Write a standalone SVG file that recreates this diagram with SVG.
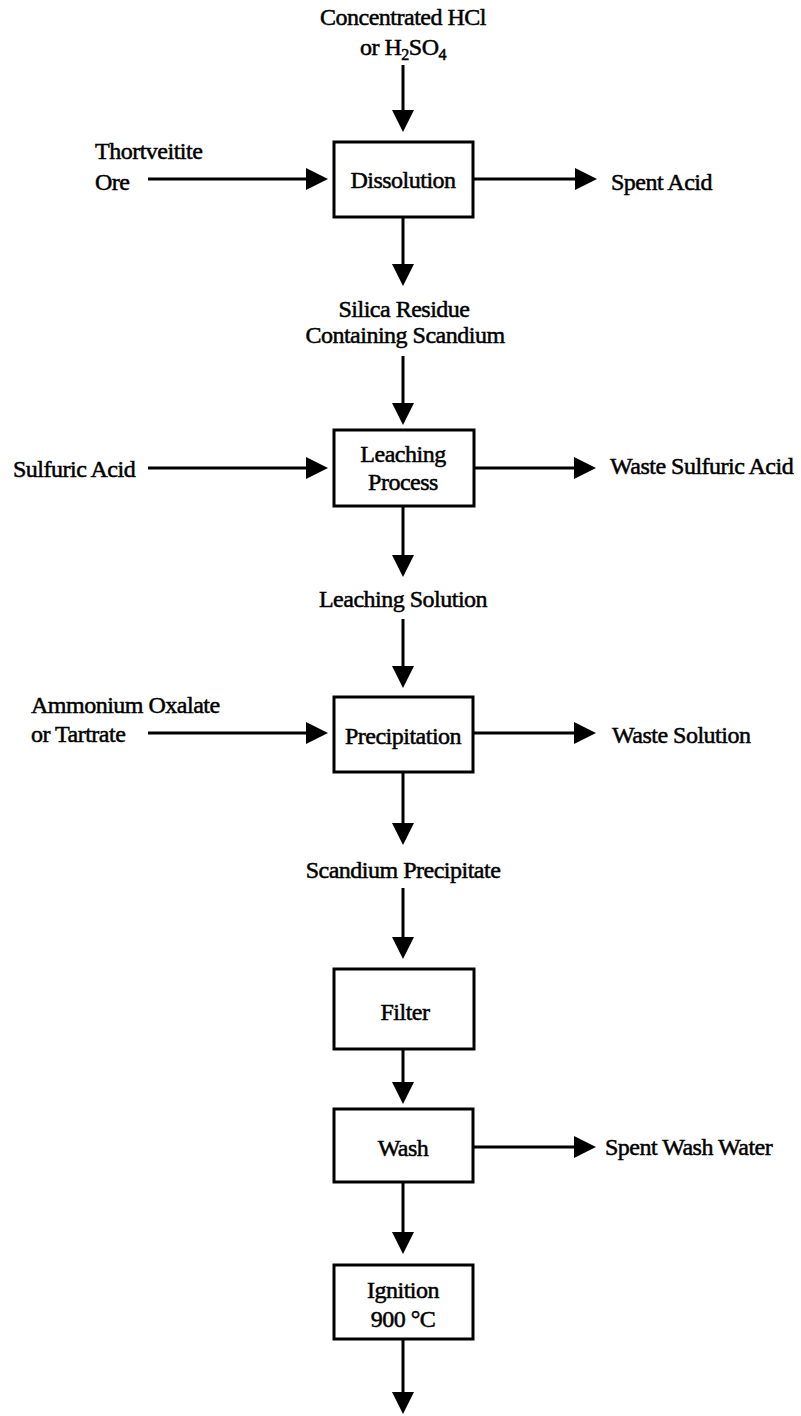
<svg xmlns="http://www.w3.org/2000/svg" width="801" height="1416" viewBox="0 0 801 1416">
  <defs>
    <style>
      .box { fill: #fff; stroke: #000; stroke-width: 3; }
      .flow { stroke: #000; stroke-width: 3; fill: none; marker-end: url(#head); }
      .lbl { font-size: 24px; letter-spacing: -0.5px; fill: #000; stroke: #000; stroke-width: 0.5; }
      .c { text-anchor: middle; }
      .sub { font-size: 16px; }
    </style>
    <marker id="head" viewBox="0 -11 22 22" refX="1" refY="0" markerWidth="22" markerHeight="22" markerUnits="userSpaceOnUse" orient="auto">
      <path d="M0,-11 L22,0 L0,11 Z" fill="#000"/>
    </marker>
  </defs>

  <rect width="801" height="1416" fill="#fff"/>

  <!-- process connectors -->
  <g id="connectors">
    <line class="flow" x1="403" y1="65" x2="403" y2="111"/>
    <line class="flow" x1="148" y1="179" x2="307" y2="179"/>
    <line class="flow" x1="473" y1="179" x2="576" y2="179"/>
    <line class="flow" x1="403" y1="217" x2="403" y2="265"/>
    <line class="flow" x1="403" y1="356" x2="403" y2="404"/>
    <line class="flow" x1="148" y1="468" x2="307" y2="468"/>
    <line class="flow" x1="474" y1="468" x2="575" y2="468"/>
    <line class="flow" x1="403" y1="506" x2="403" y2="556"/>
    <line class="flow" x1="403" y1="619" x2="403" y2="667"/>
    <line class="flow" x1="148" y1="733" x2="307" y2="733"/>
    <line class="flow" x1="473" y1="733" x2="575" y2="733"/>
    <line class="flow" x1="403" y1="772" x2="403" y2="824"/>
    <line class="flow" x1="403" y1="888" x2="403" y2="938"/>
    <line class="flow" x1="403" y1="1049" x2="403" y2="1083"/>
    <line class="flow" x1="473" y1="1147" x2="575" y2="1147"/>
    <line class="flow" x1="403" y1="1182" x2="403" y2="1233"/>
    <line class="flow" x1="403" y1="1339" x2="403" y2="1393"/>
  </g>

  <g class="lbl" font-family="Liberation Serif, Times New Roman, serif">
    <!-- stream labels -->
    <g id="feed-acid">
      <text class="c" x="403" y="25">Concentrated HCl</text>
      <text class="c" x="403" y="55">or H<tspan class="sub" dy="5">2</tspan><tspan dy="-5">SO</tspan><tspan class="sub" dy="5">4</tspan></text>
    </g>
    <g id="feed-ore">
      <text x="95" y="159">Thortveitite</text>
      <text x="95" y="190">Ore</text>
    </g>
    <g id="out-spent-acid"><text x="611" y="190">Spent Acid</text></g>
    <g id="silica-residue">
      <text class="c" x="404" y="317">Silica Residue</text>
      <text class="c" x="405" y="343">Containing Scandium</text>
    </g>
    <g id="feed-sulfuric"><text x="13" y="477">Sulfuric Acid</text></g>
    <g id="out-waste-sulfuric"><text x="610" y="474">Waste Sulfuric Acid</text></g>
    <g id="leaching-solution"><text class="c" x="403" y="607">Leaching Solution</text></g>
    <g id="feed-oxalate">
      <text x="31" y="713">Ammonium Oxalate</text>
      <text x="31" y="742">or Tartrate</text>
    </g>
    <g id="out-waste-solution"><text x="612" y="743">Waste Solution</text></g>
    <g id="scandium-precipitate"><text class="c" x="403" y="878">Scandium Precipitate</text></g>
    <g id="out-wash-water"><text x="605" y="1155">Spent Wash Water</text></g>

    <!-- process units -->
    <g id="dissolution">
      <rect class="box" x="334" y="142" width="139" height="75"/>
      <text class="c" x="403" y="188">Dissolution</text>
    </g>
    <g id="leaching">
      <rect class="box" x="334" y="430" width="140" height="76"/>
      <text class="c" x="403" y="462">Leaching</text>
      <text class="c" x="403" y="490">Process</text>
    </g>
    <g id="precipitation">
      <rect class="box" x="334" y="697" width="139" height="75"/>
      <text class="c" x="403" y="744">Precipitation</text>
    </g>
    <g id="filter">
      <rect class="box" x="334" y="969" width="140" height="80"/>
      <text class="c" x="405" y="1020">Filter</text>
    </g>
    <g id="wash">
      <rect class="box" x="334" y="1109" width="139" height="73"/>
      <text class="c" x="403" y="1156">Wash</text>
    </g>
    <g id="ignition">
      <rect class="box" x="334" y="1265" width="139" height="74"/>
      <text class="c" x="403" y="1298">Ignition</text>
      <text class="c" x="403" y="1327">900 °C</text>
    </g>
  </g>
</svg>
